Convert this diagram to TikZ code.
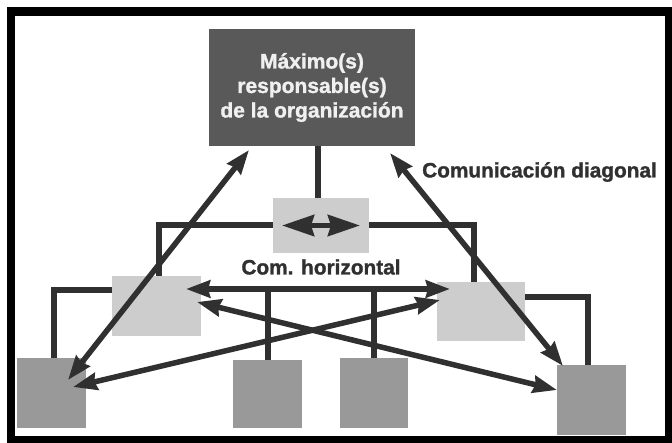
\documentclass[tikz,border=0pt]{standalone}
\usepackage{fontspec}
\setmainfont{Liberation Sans}[BoldFeatures={FakeBold=1.3}]
\usetikzlibrary{arrows.meta,calc}
\definecolor{topc}{HTML}{595959}
\definecolor{lightc}{HTML}{CDCDCD}
\definecolor{midc}{HTML}{999999}
\definecolor{linec}{HTML}{303030}
\tikzset{
  box/.style={draw=none,inner sep=0pt,outer sep=0pt,rectangle},
  topbox/.style={box,fill=topc,minimum width=206pt,minimum height=117pt},
  lightbox/.style={box,fill=lightc},
  lowbox/.style={box,fill=midc,minimum width=69pt,minimum height=70pt},
  tree/.style={draw=linec,line width=6pt,line join=miter},
  arr/.style={draw=linec,line width=5.5pt,{Stealth[length=24pt,width=17pt,inset=2pt]}-{Stealth[length=24pt,width=17pt,inset=2pt]}},
  bigarr/.style={draw=linec,line width=5.5pt,{Stealth[length=32pt,width=21pt,inset=3pt]}-{Stealth[length=32pt,width=21pt,inset=3pt]}},
  lab/.style={text=linec,font=\bfseries\fontsize{20.8}{24}\selectfont,inner sep=0pt}
}
\begin{document}
\begin{tikzpicture}[x=1pt,y=-1pt]
\useasboundingbox (0,0) rectangle (672,443);
\fill[black] (7,7) rectangle (672,443);
\fill[white] (15,16) rectangle (665,436);
% boxes
\node[topbox,align=center,text=white!94!black,font=\bfseries\fontsize{21}{24.5}\selectfont] (top) at (312,87.5)
  {Máximo(s)\\responsable(s)\\de la organización};
\node[lightbox,minimum width=96pt,minimum height=55pt] (mid) at (321,225.5) {};
\node[lightbox,minimum width=89pt,minimum height=60pt] (ll) at (156.5,306) {};
\node[lightbox,minimum width=88pt,minimum height=59pt] (rl) at (481,311.5) {};
\node[lowbox] (bl) at (51.5,393) {};
\node[lowbox,minimum height=68pt] (bml) at (267.5,394) {};
\node[lowbox,minimum width=68pt] (bmr) at (374,393) {};
\node[lowbox] (br) at (591.5,400) {};
% labels
\node[lab,anchor=west] (ldiag) at (422,172) {Comunicación diagonal};
\node[lab] (lhor) at (321,267) {Com. horizontal};
% tree lines
\draw[tree] ([xshift=6pt]top.south) -- ([xshift=6pt]top.south |- mid.north);
\draw[tree] (mid.west) -| ([xshift=2.5pt]ll.north);
\draw[tree] (mid.east) -| ([xshift=-7pt]rl.north);
\coordinate (llc) at ($(ll.north west)+(0,14)$);
\coordinate (rlc) at ($(rl.north east)+(0,15)$);
\draw[tree] (llc) -| ([xshift=2.5pt]bl.north);
\draw[tree] (rlc) -| ([xshift=-3.5pt]br.north);
% horizontal communication
\coordinate (hl) at ($(ll.north east)+(-15,13)$);
\coordinate (hr) at ($(rl.north west)+(13,7)$);
\draw[arr] (hl) -- (hr);
\draw[tree] (bml.north |- hl) -- (bml.north);
\draw[tree] (bmr.north |- hl) -- (bmr.north);
\coordinate (ml) at ($(mid.west)+(9,0)$);
\coordinate (mr) at ($(mid.east)+(-9,0)$);
\draw[bigarr] (ml) -- (mr);
% diagonal communication
\coordinate (a1) at ($(top.south west)+(40,4)$);
\coordinate (a2) at ($(bl.north west)+(51,22)$);
\coordinate (b1) at ($(top.south east)+(-25,7)$);
\coordinate (b2) at ($(br.north west)+(6,1)$);
\coordinate (c1) at ($(ll.north west)+(85,26)$);
\coordinate (c2) at ($(br.north west)+(0,25)$);
\coordinate (d1) at ($(bl.north west)+(56,29)$);
\coordinate (d2) at ($(rl.north west)+(3,18)$);
\draw[arr] (a1) -- (a2);
\draw[arr] (b1) -- (b2);
\draw[arr] (c1) -- (c2);
\draw[arr] (d1) -- (d2);
\end{tikzpicture}
\end{document}
